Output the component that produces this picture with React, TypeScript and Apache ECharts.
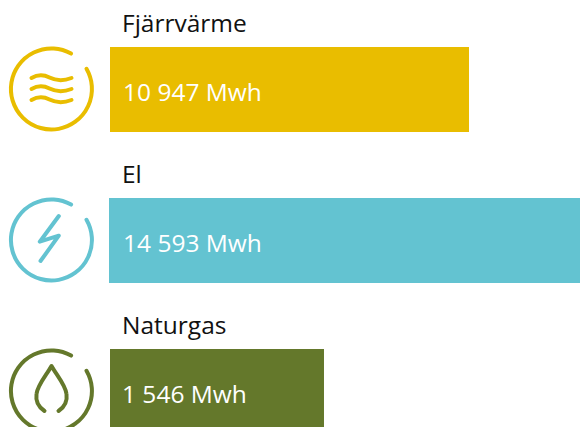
import React, { useEffect, useRef } from "react";
import * as echarts from "echarts";

const categories = ["Fjärrvärme", "El", "Naturgas"];
const valueLabels = ["10 947 Mwh", "14 593 Mwh", "1 546 Mwh"];
// Bar lengths as drawn: the reference's bars are not to scale with their labels.
const barLengths = [11123, 14593, 6630];
const barOffsets = [31, 0, 31];
const colors = ["#E9BD00", "#63C3D1", "#64782B"];

const RING = "M35,-20.25 A40.5,40.5 0 1 1 19.6,-35.4";
const WAVES =
  "M-20,-11 C-13,-15 -7,-14 -2,-11.5 C4,-8.5 12,-8 20,-11 " +
  "M-20,0 C-13,-4 -7,-3 -2,-0.5 C4,2.5 12,3 20,0 " +
  "M-20,11 C-13,7 -7,8 -2,10.5 C4,13.5 12,14 20,11";
const BOLT = "M7.3,-24 L-11.7,1.7 L7.3,-4.3 L-11,21";
const DROP = "M-7,20 C-13,16 -16,10 -15,3 C-14,-6 -5,-16 0,-25 C5,-16 14,-6 15,3 C16,10 13,16 7,20";

echarts.graphic.registerShape("iconRing", echarts.graphic.extendPath(RING, {}));
echarts.graphic.registerShape("iconWaves", echarts.graphic.extendPath(WAVES, {}));
echarts.graphic.registerShape("iconBolt", echarts.graphic.extendPath(BOLT, {}));
echarts.graphic.registerShape("iconDrop", echarts.graphic.extendPath(DROP, {}));

const FONT = "Open Sans";

export default function App() {
  const ref = useRef<HTMLDivElement>(null);
  useEffect(() => {
    document.body.style.margin = "0";
    const chart = echarts.init(ref.current!, undefined, { renderer: "svg" });
    const centers = [89, 240, 391];
    const glyphs = ["iconWaves", "iconBolt", "iconDrop"];
    const iconStyle = (c: string, lineWidth: number) => ({
      fill: "none",
      stroke: c,
      lineWidth,
      lineCap: "round",
      lineJoin: "round",
    });
    const graphics: any[] = [];
    categories.forEach((name, i) => {
      graphics.push({
        type: "text",
        x: 122,
        y: [22.5, 173.5, 324.5][i],
        z: 10,
        style: { text: name, fontFamily: FONT, fontSize: 24.5, fill: "#111111", textVerticalAlign: "middle" },
      });
      graphics.push({ type: "iconRing", x: 51.5, y: centers[i], style: iconStyle(colors[i], 4) });
      graphics.push({ type: glyphs[i], x: 51.5, y: centers[i], style: iconStyle(colors[i], 4) });
    });
    chart.setOption({
      animation: false,
      grid: { left: 109, top: 14, width: 471, height: 453, containLabel: false, outerBoundsMode: "none" },
      xAxis: { type: "value", min: 0, max: 14593, show: false },
      yAxis: { type: "category", inverse: true, data: categories, show: false },
      series: [
        {
          type: "bar",
          stack: "a",
          barWidth: 85,
          silent: true,
          itemStyle: { color: "transparent" },
          data: barOffsets,
        },
        {
          type: "bar",
          stack: "a",
          barWidth: 85,
          data: barLengths.map((v, i) => ({
            value: v,
            itemStyle: { color: colors[i] },
            label: { offset: [[13, 14, 12][i], 2] },
          })),
          label: {
            show: true,
            position: "insideLeft",
            distance: 0,
            color: "#ffffff",
            fontFamily: FONT,
            fontSize: 24.5,
            formatter: (p: any) => valueLabels[p.dataIndex],
          },
        },
      ],
      graphic: graphics,
    });
    return () => chart.dispose();
  }, []);
  return <div ref={ref} style={{ width: 580, height: 427, background: "#fff" }} />;
}
